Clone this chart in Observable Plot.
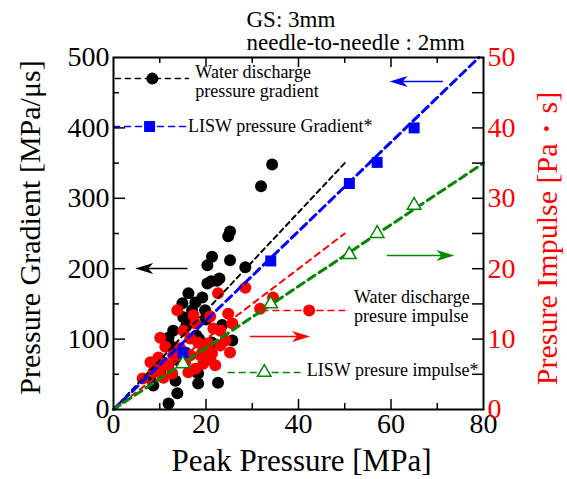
<!DOCTYPE html>
<html><head><meta charset="utf-8">
<script src="https://cdn.jsdelivr.net/npm/d3@7"></script>
<script src="https://cdn.jsdelivr.net/npm/@observablehq/plot@0.6"></script>
<style>body{margin:0;background:#fff}</style>
</head><body><div id="chart"></div>
<script>
// ---- tick values ----
const xTicks = [0, 20, 40, 60, 80];
const yTicks = [0, 100, 200, 300, 400, 500];
const impTicks = [0, 10, 20, 30, 40, 50];
const xMajorInner = [20, 40, 60];
const xMinor = [10, 30, 50, 70];
const yMajorInner = [100, 200, 300, 400];
const yMinor = [50, 150, 250, 350, 450];
const impInner = [5, 10, 15, 20, 25, 30, 35, 40, 45];

// ---- water discharge: pressure gradient (left axis) ----
const waterGradX = [34.3,31.9,25.2,24.8,21.3,25.2,20.3,28.5,22.9,21.1,20.3,16.2,19.2,14.9,17.7,17.0,19.8,15.1,12.9,15.7,11.9,21.3,25.7,18.3,18.3,22.6,13.4,8.6,13.8,11.9,20.5,8.0,10.1,22.4,17.9,15.5,12.5,16.5,18.5,10.5,14.0,20.0,23.5];
const waterGradY = [348,317,253,246,217,212,205,202,186,182,179,165,159,151,152,141,141,131,112,118,102,95,98,51,37,38,41,34,23,8.5,74,44,53,183,105,81,90,125,100,68,70,128,120];

// ---- water discharge: pressure impulse (right axis) ----
const waterImpX = [28.5,22.6,34.5,31.7,24.8,25.7,21.6,23.1,17.3,13.8,17.7,15.1,10.1,11.2,16.6,18.3,20.5,19.4,25.2,21.3,9.7,16.6,12.9,18.8,20.9,19.4,10.1,11.9,8.6,12.7,6.3,10.8,15.5,14.4,17.7,8.0,23.1,24.2,20.9,16.2,22.0];
const waterImpY = [17.3,16.5,15.9,14.3,13.6,12.2,11.5,11.2,13.4,14.1,12.2,11.2,10.2,8.9,10.1,9.5,9.4,8.4,8.1,8.0,7.4,7.7,7.7,7.7,7.2,6.5,6.0,6.3,5.3,5.1,4.4,4.5,6.7,8.7,5.8,6.7,9.1,9.8,13.2,5.3,6.3];

// ---- LISW ----
const liswX = [15, 34, 51, 57, 65];
const liswGradient = [81, 211, 321, 351, 400];
const liswImpulse = [6.5, 15, 22, 25, 29];

// ---- fitted lines ----
const fitWaterGradX = [0, 50], fitWaterGradY = [0, 350];
const fitLiswGradX = [0, 79], fitLiswGradY = [0, 500];
const fitWaterImpX = [0, 50], fitWaterImpY = [0, 25];
const fitLiswImpX = [0, 80], fitLiswImpY = [0, 35];

const impFactor = 10; // 50 Pa·s on the right == 500 MPa/μs on the left

// ---- build tables ----
const waterGrad = waterGradX.map((x, i) => ({x, y: waterGradY[i]}));
const waterImp = waterImpX.map((x, i) => ({x, y: waterImpY[i] * impFactor}));
const liswG = liswX.map((x, i) => ({x, y: liswGradient[i]}));
const liswI = liswX.map((x, i) => ({x, y: liswImpulse[i] * impFactor}));
const pts = (xs, ys, f = 1) => xs.map((x, i) => ({x, y: ys[i] * f}));

// ---- annotation layout (data coordinates, left-axis units) ----
const legend = {
  water: {x1: 0.4, x2: 16.2, y: 470, mx: 8.4, tx: 17.7, ty: 466.6},
  liswG: {x1: 0, x2: 16.6, y: 402, mx: 7.8, tx: 16.1, ty: 402},
  waterI: {x1: 32.1, x2: 50.0, y: 140.6, mx: 42.3, tx: 52.0, ty: 146.3},
  liswI: {x1: 24.8, x2: 40.3, y: 52.6, mx: 32.6, tx: 41.8, ty: 55.4}
};
const arrowsL = [{x1: 16.0, x2: 4.7, y: 200.3, c: "black"}, {x1: 71.2, x2: 59.7, y: 466, c: "#0000ff"}];
const arrowsR = [{x1: 29.5, x2: 42.5, y: 103.7, c: "#ff0000"}, {x1: 59.1, x2: 73.7, y: 218.8, c: "#008800"}];

const W = 567, H = 479, mL = 113, mR = 84, mT = 57, mB = 70;
const ux = 80 / (W - mL - mR), uy = 500 / (H - mT - mB);

const headRight = {draw(ctx, size) { const s = Math.sqrt(size / Math.PI);
  ctx.moveTo(0, 0); ctx.lineTo(-1.8 * s, -0.55 * s); ctx.lineTo(-1.3 * s, 0); ctx.lineTo(-1.8 * s, 0.55 * s); ctx.closePath(); }};
const headLeft = {draw(ctx, size) { const s = Math.sqrt(size / Math.PI);
  ctx.moveTo(0, 0); ctx.lineTo(1.8 * s, -0.55 * s); ctx.lineTo(1.3 * s, 0); ctx.lineTo(1.8 * s, 0.55 * s); ctx.closePath(); }};

const BLUE = "#0000ff", RED = "#ff0000", GREEN = "#008800";
const serif = "'Liberation Serif', 'Times New Roman', serif";

const arrowMarks = [];
for (const a of arrowsL) {
  arrowMarks.push(Plot.link([a], {x1: "x1", x2: d => d.x2 + 1.5, y1: "y", y2: "y", stroke: a.c, strokeWidth: 1.5}));
  arrowMarks.push(Plot.dot([a], {x: "x2", y: "y", r: 10, symbol: headLeft, fill: a.c, stroke: "none"}));
}
for (const a of arrowsR) {
  arrowMarks.push(Plot.link([a], {x1: "x1", x2: d => d.x2 - 1.5, y1: "y", y2: "y", stroke: a.c, strokeWidth: 1.5}));
  arrowMarks.push(Plot.dot([a], {x: "x2", y: "y", r: 10, symbol: headRight, fill: a.c, stroke: "none"}));
}

const legLine = (L, color, dash, w) => Plot.line([{x: L.x1, y: L.y}, {x: L.x2, y: L.y}], {x: "x", y: "y", stroke: color, strokeWidth: w, strokeDasharray: dash});

const chart = Plot.plot({
  width: W, height: H,
  marginLeft: mL, marginRight: mR, marginTop: mT, marginBottom: mB,
  x: {domain: [0, 80], axis: null},
  y: {domain: [0, 500], axis: null},
  style: {fontFamily: serif, background: "white", overflow: "visible"},
  marks: [
    // data points
    Plot.dot(waterGrad, {x: "x", y: "y", r: 6, fill: "black"}),
    Plot.dot(waterImp, {x: "x", y: "y", r: 6, fill: RED}),
    // fit lines
    Plot.line(pts(fitWaterGradX, fitWaterGradY), {x: "x", y: "y", stroke: "black", strokeWidth: 2, strokeDasharray: "5,4"}),
    Plot.line(pts(fitWaterImpX, fitWaterImpY, impFactor), {x: "x", y: "y", stroke: RED, strokeWidth: 2, strokeDasharray: "6,5"}),
    Plot.line(pts(fitLiswGradX, fitLiswGradY), {x: "x", y: "y", stroke: BLUE, strokeWidth: 3, strokeDasharray: "8,5"}),
    Plot.line(pts(fitLiswImpX, fitLiswImpY, impFactor), {x: "x", y: "y", stroke: GREEN, strokeWidth: 3, strokeDasharray: "8,5"}),
    // LISW markers
    Plot.dot(liswG, {x: "x", y: "y", r: 6.2, symbol: "square", fill: BLUE}),
    Plot.dot(liswI, {x: "x", y: "y", r: 5, symbol: "triangle", fill: "white", stroke: GREEN, strokeWidth: 1.5}),
    // legend
    legLine(legend.water, "black", "5,5", 1.5),
    Plot.dot([legend.water], {x: "mx", y: "y", r: 6, fill: "black"}),
    Plot.text([legend.water], {x: "tx", y: "ty", text: () => "Water discharge\npressure gradient", textAnchor: "start", lineAnchor: "middle", lineHeight: 1.05, fontSize: 18, fill: "black"}),
    legLine(legend.liswG, BLUE, "6,5", 1.5),
    Plot.dot([legend.liswG], {x: "mx", y: "y", r: 6.2, symbol: "square", fill: BLUE}),
    Plot.text([legend.liswG], {x: "tx", y: "ty", text: () => "LISW pressure Gradient*", textAnchor: "start", lineAnchor: "middle", fontSize: 18, fill: "black"}),
    legLine(legend.waterI, RED, "6,5", 1.5),
    Plot.dot([legend.waterI], {x: "mx", y: "y", r: 6, fill: RED}),
    Plot.text([legend.waterI], {x: "tx", y: "ty", text: () => "Water discharge\npresure impulse", textAnchor: "start", lineAnchor: "middle", lineHeight: 1.05, fontSize: 18, fill: "black"}),
    legLine(legend.liswI, GREEN, "6,5", 1.5),
    Plot.dot([legend.liswI], {x: "mx", y: "y", r: 5, symbol: "triangle", fill: "white", stroke: GREEN, strokeWidth: 1.5}),
    Plot.text([legend.liswI], {x: "tx", y: "ty", text: () => "LISW presure impulse*", textAnchor: "start", lineAnchor: "middle", fontSize: 18, fill: "black"}),
    // arrows
    ...arrowMarks,
    // inward ticks
    Plot.ruleX(xMajorInner, {x: d => d, y1: 0, y2: 10 * uy, stroke: "black", strokeWidth: 1.5}),
    Plot.ruleX(xMinor, {x: d => d, y1: 0, y2: 6 * uy, stroke: "black", strokeWidth: 1.5}),
    Plot.ruleX(xMajorInner, {x: d => d, y1: 500, y2: 500 - 10 * uy, stroke: "black", strokeWidth: 1.5}),
    Plot.ruleX(xMinor, {x: d => d, y1: 500, y2: 500 - 6 * uy, stroke: "black", strokeWidth: 1.5}),
    Plot.ruleY(yMajorInner, {y: d => d, x1: 0, x2: 12 * ux, stroke: "black", strokeWidth: 1.5}),
    Plot.ruleY(yMinor, {y: d => d, x1: 0, x2: 6 * ux, stroke: "black", strokeWidth: 1.5}),
    Plot.ruleY(impInner, {y: d => d * impFactor, x1: 80, x2: 80 - 11 * ux, stroke: "black", strokeWidth: 1.5}),
    Plot.frame({stroke: "black", strokeWidth: 2}),
    // tick labels
    Plot.text(xTicks, {x: d => d, frameAnchor: "bottom", lineAnchor: "middle", textAnchor: "middle", dy: 15, text: d => String(d), fontSize: 28, fill: "black"}),
    Plot.text(yTicks, {y: d => d, frameAnchor: "left", lineAnchor: "middle", dx: -4, textAnchor: "end", text: d => String(d), fontSize: 28, fill: "black"}),
    Plot.text(impTicks, {y: d => d * impFactor, frameAnchor: "right", lineAnchor: "middle", dx: 4, textAnchor: "start", text: d => String(d), fontSize: 28, fill: RED}),
    // axis titles
    Plot.text(["Peak Pressure [MPa]"], {frameAnchor: "bottom", textAnchor: "middle", lineAnchor: "middle", dx: 3, dy: 52, fontSize: 31, fill: "black"}),
    Plot.text(["Pressure Gradient [MPa/μs]"], {frameAnchor: "left", textAnchor: "middle", lineAnchor: "middle", dx: -83, dy: -6, rotate: -90, fontSize: 30, fill: "black"}),
    Plot.text(["Presure Impulse [Pa・s]"], {frameAnchor: "right", textAnchor: "middle", lineAnchor: "middle", dx: 64, dy: 5, rotate: -90, fontSize: 30, fill: RED}),
    // title
    Plot.text(["GS: 3mm"], {frameAnchor: "top-left", lineAnchor: "middle", dx: 133, dy: -38, textAnchor: "start", fontSize: 23, fill: "black"}),
    Plot.text(["needle-to-needle : 2mm"], {frameAnchor: "top-left", lineAnchor: "middle", dx: 133, dy: -15, textAnchor: "start", fontSize: 23, fill: "black"})
  ]
});
document.getElementById("chart").appendChild(chart);
</script>
</body></html>
